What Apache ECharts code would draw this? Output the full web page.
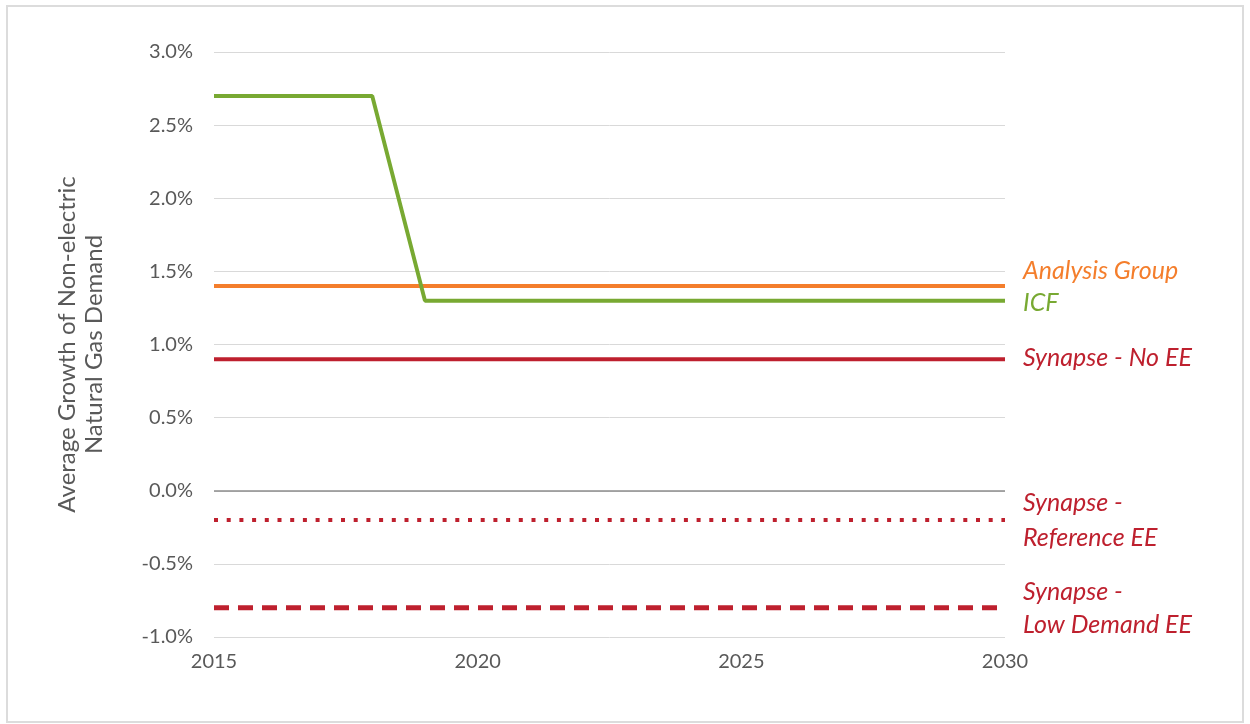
<!DOCTYPE html>
<html>
<head>
<meta charset="utf-8">
<script src="https://cdn.jsdelivr.net/npm/echarts@6/dist/echarts.min.js"></script>
<style>
html,body{margin:0;padding:0;background:#fff;}
#chart{width:1250px;height:724px;}
</style>
</head>
<body>
<div id="chart"></div>
<script>
var yearTicks = [2015, 2020, 2025, 2030];
var icfYears = [2015, 2018, 2019, 2030];
var icfValues = [2.7, 2.7, 1.3, 1.3];
var flatYears = [2015, 2030];
var analysisGroup = [1.4, 1.4];
var synapseNoEE = [0.9, 0.9];
var synapseRefEE = [-0.2, -0.2];
var synapseLowEE = [-0.8, -0.8];
var seriesNames = ['Analysis Group', 'ICF', 'Synapse - No EE', 'Synapse -\nReference EE', 'Synapse -\nLow Demand EE'];
var yAxisTitle = 'Average Growth of Non-electric\nNatural Gas Demand';

function pairs(xs, ys){ return xs.map(function(x,i){ return [x, ys[i]]; }); }

var FONT = 'Lato, "Open Sans", sans-serif';
var GREEN = '#78A932', ORANGE = '#F47E2C', RED = '#BE202E';

function lbl(color, offset, lh){
  return {show:true, formatter:'{a}', color:color, fontFamily:FONT, fontStyle:'italic',
    fontSize:25, distance:18, offset:offset, lineHeight:lh||28, align:'left'};
}

var chart = echarts.init(document.getElementById('chart'));
chart.setOption({
  animation:false,
  backgroundColor:'#fff',
  graphic:[{type:'rect', shape:{x:7, y:6, width:1236, height:716}, style:{fill:'none', stroke:'#dcdcdc', lineWidth:2}, silent:true}],
  grid:{left:214, right:245, top:52, bottom:87, containLabel:false},
  xAxis:{type:'value', min:2015, max:2030, interval:5,
    axisLine:{show:false}, axisTick:{show:false}, splitLine:{show:false},
    axisLabel:{color:'#595959', fontFamily:FONT, fontSize:20, margin:15,
      customValues: yearTicks, formatter:function(v){return String(v);}}},
  yAxis:{type:'value', min:-1, max:3, interval:0.5,
    name:yAxisTitle, nameLocation:'middle', nameGap:106, nameRotate:90,
    nameTextStyle:{color:'#595959', fontFamily:FONT, fontSize:24, lineHeight:27},
    axisLine:{show:false}, axisTick:{show:false},
    splitLine:{lineStyle:{color:'#d9d9d9', width:1}},
    axisLabel:{color:'#595959', fontFamily:FONT, fontSize:20, margin:21,
      formatter:function(v){return v.toFixed(1)+'%';}}},
  series:[
    {name:seriesNames[0], type:'line', data:pairs(flatYears, analysisGroup), symbol:'none',
     lineStyle:{color:ORANGE, width:4}, endLabel:lbl('#F47E2C',[0,-15]),
     markLine:{silent:true, symbol:'none', label:{show:false},
       lineStyle:{color:'#8c8c8c', width:1.5, type:'solid'}, data:[{yAxis:0}]}},
    {name:seriesNames[1], type:'line', data:pairs(icfYears, icfValues), symbol:'none',
     lineStyle:{color:GREEN, width:4}, endLabel:lbl('#78A932',[0,2])},
    {name:seriesNames[2], type:'line', data:pairs(flatYears, synapseNoEE), symbol:'none',
     lineStyle:{color:RED, width:4}, endLabel:lbl('#BE202E',[0,-1])},
    {name:seriesNames[3], type:'line', data:pairs(flatYears, synapseRefEE), symbol:'none',
     lineStyle:{color:RED, width:4, type:[4,8.7]}, endLabel:lbl('#BE202E',[0,0],35)},
    {name:seriesNames[4], type:'line', data:pairs(flatYears, synapseLowEE), symbol:'none',
     lineStyle:{color:RED, width:5, type:[15,9]}, endLabel:lbl('#BE202E',[0,1],33)}
  ]
});
</script>
</body>
</html>
